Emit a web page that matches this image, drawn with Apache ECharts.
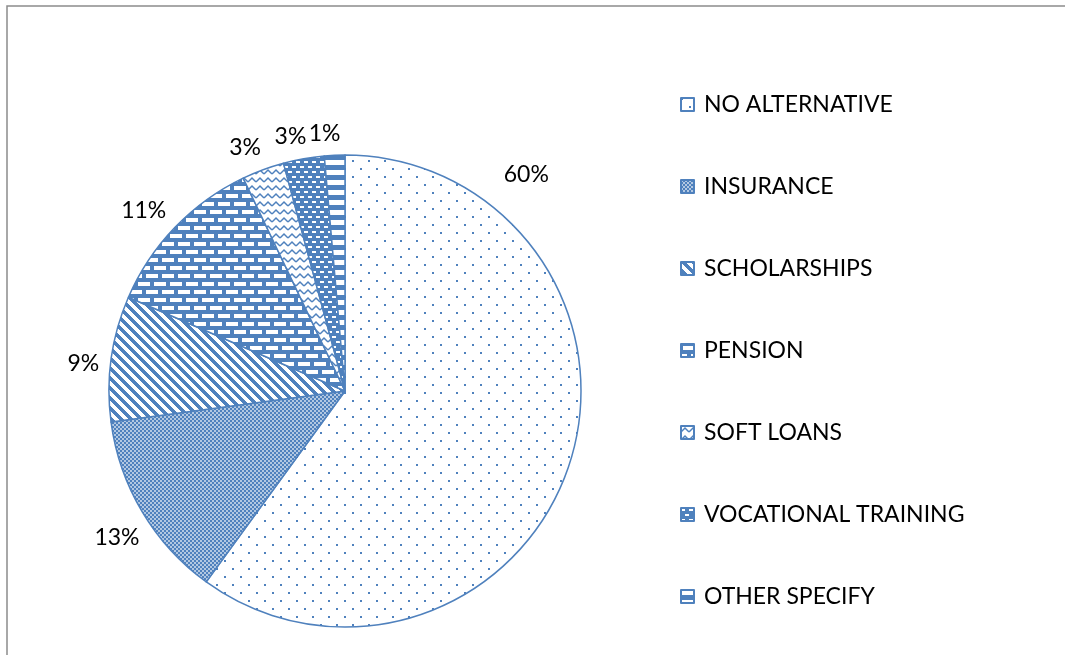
<!DOCTYPE html>
<html><head><meta charset="utf-8">
<script src="https://cdn.jsdelivr.net/npm/echarts@6/dist/echarts.min.js"></script>
<style>html,body{margin:0;padding:0;background:#fff}#c{width:1065px;height:655px}</style>
</head><body><div id="c"></div>
<script>
const categories = ['NO ALTERNATIVE','INSURANCE','SCHOLARSHIPS','PENSION','SOFT LOANS','VOCATIONAL TRAINING','OTHER SPECIFY'];
const values = [60, 12.9, 8.6, 11.4, 2.9, 2.8, 1.4];

const BLUE = '#4F81BD';
function pat(w, h, draw) {
  const c = document.createElement('canvas');
  c.width = w; c.height = h;
  const g = c.getContext('2d');
  draw(g, w, h);
  return { image: c, repeat: 'repeat' };
}
const patterns = [
  pat(16, 16, (g) => { g.fillStyle = '#fff'; g.fillRect(0,0,16,16); g.fillStyle = BLUE; g.fillRect(0,0,2,2); g.fillRect(8,8,2,2); }),
  pat(4, 4, (g) => { g.fillStyle = BLUE; g.fillRect(0,0,4,4); g.fillStyle = '#fff'; g.fillRect(0.25,0.25,1.5,1.5); g.fillRect(2.25,2.25,1.5,1.5); }),
  pat(10, 10, (g) => { g.fillStyle = '#fff'; g.fillRect(0,0,10,10); g.fillStyle = BLUE;
    for (let y = 0; y < 10; y++) for (let x = 0; x < 10; x++) { if ((((x - y) % 10) + 10) % 10 < 5) g.fillRect(x, y, 1, 1); } }),
  pat(16, 16, (g) => { g.fillStyle = BLUE; g.fillRect(0,0,16,16); g.fillStyle = '#fff';
    g.fillRect(2,2,12,4); g.fillRect(10,10,12,4); g.fillRect(-6,10,12,4); }),
  pat(8, 8, (g) => { g.fillStyle = '#fff'; g.fillRect(0,0,8,8); g.strokeStyle = BLUE; g.lineWidth = 1.5;
    g.beginPath(); g.moveTo(0,6); g.lineTo(4,2); g.lineTo(8,6); g.stroke(); }),
  pat(8, 10, (g) => { g.fillStyle = BLUE; g.fillRect(0,0,8,10); g.fillStyle = '#fff';
    g.fillRect(0,1,4,2); g.fillRect(4,6,4,2); }),
  pat(10, 10, (g) => { g.fillStyle = BLUE; g.fillRect(0,0,10,10); g.fillStyle = '#fff'; g.fillRect(0,0,10,5); })
];

const CX = 345, CY = 391, R = 236;
const FONT = 'Lato';
const FS = 23;

// mid-angles (clockwise from top, degrees) derived from the values
const total = values.reduce((a, b) => a + b, 0);
const midAngles = [];
{ let acc = 0; values.forEach(v => { midAngles.push((acc + v / 2) / total * 360); acc += v; }); }

const chart = echarts.init(document.getElementById('c'), null, { renderer: 'canvas' });
chart.setOption({
  backgroundColor: '#fff',
  animation: false,
  graphic: [{
    type: 'rect', z: 100, silent: true,
    shape: { x: 7, y: 6, width: 1200, height: 800 },
    style: { fill: null, stroke: '#8c8c8c', lineWidth: 1.5 }
  }],
  legend: {
    orient: 'vertical', left: 675, top: 88,
    itemWidth: 13, itemHeight: 13, itemGap: 59,
    icon: 'rect',
    textStyle: { fontFamily: FONT, fontSize: FS, color: '#000', lineHeight: 22, padding: [0,0,0,5] },
    data: categories
  },
  series: [{
    type: 'pie',
    center: [CX, CY], radius: R,
    startAngle: 90, clockwise: true,
    avoidLabelOverlap: false,
    itemStyle: { borderColor: BLUE, borderWidth: 1.5 },
    label: {
      show: true, position: 'outside',
      fontFamily: FONT, fontSize: FS, color: '#000',
      formatter: (p) => Math.round(p.percent) + '%'
    },
    labelLine: { show: false, length: 10, length2: 0 },
    labelLayout: function (params) {
      const i = params.dataIndex;
      if (i === 0) {
        const a = 40 * Math.PI / 180, r = 282;
        return { x: CX + r * Math.sin(a), y: CY - r * Math.cos(a), align: 'center', verticalAlign: 'middle' };
      }
      const a = (midAngles[i] - 2) * Math.PI / 180;
      const hw = params.labelRect.width / 2, hh = FS / 2;
      const r = R + 10 + hw * Math.abs(Math.sin(a)) + hh * Math.abs(Math.cos(a));
      return { x: CX + r * Math.sin(a), y: CY - r * Math.cos(a), align: 'center', verticalAlign: 'middle' };
    },
    emphasis: { disabled: true },
    data: categories.map((n, i) => ({ name: n, value: values[i], itemStyle: { color: patterns[i] } }))
  }]
});
</script></body></html>
